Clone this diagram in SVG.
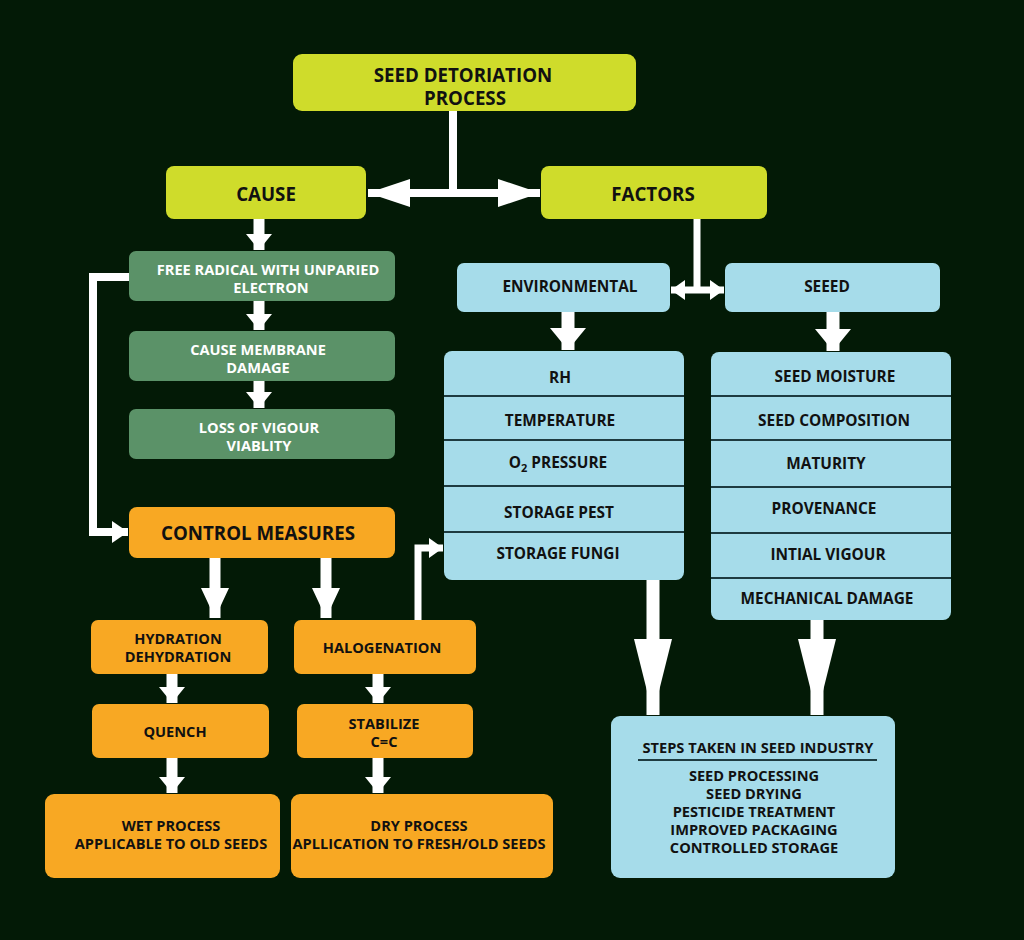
<svg xmlns="http://www.w3.org/2000/svg" width="1024" height="940" viewBox="0 0 1024 940">
<style>
text{font-family:"Open Sans","Liberation Sans",sans-serif;font-weight:bold;text-anchor:middle;dominant-baseline:central;fill:#111}
.yg{fill:#cfdc2b}
.gr{fill:#5b9268}
.or{fill:#f8a823}
.bl{fill:#a6dcea}
.w{fill:#fff}
.c{stroke:#fff;fill:none}
.div{stroke:#1e3b40;stroke-width:2}
.t17{font-size:18.7px}
.t13{font-size:14.6px}
.t14{font-size:14.6px}
.t15{font-size:15.4px}
</style>
<defs>
<marker id="ms" markerUnits="userSpaceOnUse" markerWidth="16" markerHeight="26" refX="16" refY="13" orient="auto-start-reverse"><path d="M0,0L16,13L0,26z" fill="#fff"/></marker>
<marker id="mc" markerUnits="userSpaceOnUse" markerWidth="30" markerHeight="28" refX="30" refY="14" orient="auto-start-reverse"><path d="M0,0L30,14L0,28z" fill="#fff"/></marker>
<marker id="mb" markerUnits="userSpaceOnUse" markerWidth="22" markerHeight="36" refX="22" refY="18" orient="auto-start-reverse"><path d="M0,0L22,18L0,36z" fill="#fff"/></marker>
<marker id="mt" markerUnits="userSpaceOnUse" markerWidth="42" markerHeight="28" refX="42" refY="14" orient="auto-start-reverse"><path d="M0,0L42,14L0,28z" fill="#fff"/></marker>
<marker id="mf" markerUnits="userSpaceOnUse" markerWidth="14" markerHeight="20" refX="14" refY="10" orient="auto-start-reverse"><path d="M0,0L14,10L0,20z" fill="#fff"/></marker>
<marker id="mh" markerUnits="userSpaceOnUse" markerWidth="76" markerHeight="38" refX="76" refY="19" orient="auto-start-reverse"><path d="M0,0L76,19L0,38z" fill="#fff"/></marker>
<marker id="ml" markerUnits="userSpaceOnUse" markerWidth="16" markerHeight="22" refX="16" refY="11" orient="auto-start-reverse"><path d="M0,0L16,11L0,22z" fill="#fff"/></marker>
</defs>
<rect width="1024" height="940" fill="#031a06"/>

<g id="connectors">
<line class="c" x1="453" y1="111" x2="453" y2="193" stroke-width="8"/>
<line class="c" x1="368" y1="193" x2="540" y2="193" stroke-width="8" marker-start="url(#mt)" marker-end="url(#mt)"/>
<line class="c" x1="259" y1="219" x2="259" y2="250" stroke-width="11" marker-end="url(#ms)"/>
<line class="c" x1="259" y1="301" x2="259" y2="330" stroke-width="11" marker-end="url(#ms)"/>
<line class="c" x1="259" y1="381" x2="259" y2="408" stroke-width="11" marker-end="url(#ms)"/>
<polyline class="c" points="129,277 93,277 93,532 128,532" stroke-width="8" marker-end="url(#ml)"/>
<line class="c" x1="215" y1="558" x2="215" y2="618" stroke-width="11" marker-end="url(#mc)"/>
<line class="c" x1="326" y1="558" x2="326" y2="618" stroke-width="11" marker-end="url(#mc)"/>
<line class="c" x1="172" y1="674" x2="172" y2="703" stroke-width="11" marker-end="url(#ms)"/>
<line class="c" x1="378" y1="674" x2="378" y2="703" stroke-width="11" marker-end="url(#ms)"/>
<line class="c" x1="172" y1="758" x2="172" y2="793" stroke-width="11" marker-end="url(#ms)"/>
<line class="c" x1="378" y1="758" x2="378" y2="793" stroke-width="11" marker-end="url(#ms)"/>
<polyline class="c" points="418,620 418,548 443,548" stroke-width="7" marker-end="url(#mf)"/>
<line class="c" x1="697" y1="219" x2="697" y2="290" stroke-width="7"/>
<line class="c" x1="671" y1="290" x2="724" y2="290" stroke-width="7" marker-start="url(#mf)" marker-end="url(#mf)"/>
<line class="c" x1="568" y1="312" x2="568" y2="350" stroke-width="13" marker-end="url(#mb)"/>
<line class="c" x1="833" y1="312" x2="833" y2="351" stroke-width="13" marker-end="url(#mb)"/>
<line class="c" x1="653" y1="580" x2="653" y2="715" stroke-width="13" marker-end="url(#mh)"/>
<line class="c" x1="817" y1="620" x2="817" y2="715" stroke-width="13" marker-end="url(#mh)"/>
</g>

<g id="top"><rect class="yg" x="293" y="54" width="343" height="57" rx="9"/><text class="t17" x="463" y="74">SEED DETORIATION</text><text class="t17" x="465" y="97">PROCESS</text></g>
<g id="cause"><rect class="yg" x="166" y="166" width="200" height="53" rx="8"/><text class="t17" x="266" y="193">CAUSE</text></g>
<g id="factors"><rect class="yg" x="541" y="166" width="226" height="53" rx="8"/><text class="t17" x="653" y="193">FACTORS</text></g>

<g id="free-radical"><rect class="gr" x="129" y="251" width="266" height="50" rx="7"/><text class="t13 w" x="268" y="269">FREE RADICAL WITH UNPARIED</text><text class="t13 w" x="271" y="287">ELECTRON</text></g>
<g id="membrane"><rect class="gr" x="129" y="331" width="266" height="50" rx="7"/><text class="t13 w" x="258" y="349">CAUSE MEMBRANE</text><text class="t13 w" x="258" y="367">DAMAGE</text></g>
<g id="vigour"><rect class="gr" x="129" y="409" width="266" height="50" rx="7"/><text class="t13 w" x="259" y="427">LOSS OF VIGOUR</text><text class="t13 w" x="259" y="445">VIABLITY</text></g>

<g id="control"><rect class="or" x="129" y="507" width="266" height="51" rx="8"/><text class="t17" x="258" y="532">CONTROL MEASURES</text></g>
<g id="hydration"><rect class="or" x="91" y="620" width="177" height="54" rx="7"/><text class="t14" x="178" y="638">HYDRATION</text><text class="t14" x="178" y="656">DEHYDRATION</text></g>
<g id="halogenation"><rect class="or" x="294" y="620" width="182" height="54" rx="7"/><text class="t14" x="382" y="647">HALOGENATION</text></g>
<g id="quench"><rect class="or" x="92" y="704" width="177" height="54" rx="7"/><text class="t14" x="175" y="731">QUENCH</text></g>
<g id="stabilize"><rect class="or" x="297" y="704" width="176" height="54" rx="7"/><text class="t14" x="384" y="723">STABILIZE</text><text class="t14" x="384" y="741">C=C</text></g>
<g id="wet"><rect class="or" x="45" y="794" width="235" height="84" rx="9"/><text class="t14" x="171" y="825">WET PROCESS</text><text class="t14" x="171" y="843">APPLICABLE TO OLD SEEDS</text></g>
<g id="dry"><rect class="or" x="291" y="794" width="262" height="84" rx="9"/><text class="t14" x="419" y="825">DRY PROCESS</text><text class="t14" x="419" y="843">APLLICATION TO FRESH/OLD SEEDS</text></g>

<g id="environmental"><rect class="bl" x="457" y="263" width="213" height="49" rx="7"/><text class="t15" x="570" y="286">ENVIRONMENTAL</text></g>
<g id="seeed"><rect class="bl" x="725" y="263" width="215" height="49" rx="7"/><text class="t15" x="827" y="286">SEEED</text></g>

<g id="env-list"><rect class="bl" x="444" y="351" width="240" height="229" rx="8"/>
<line class="div" x1="444" y1="396" x2="684" y2="396"/><line class="div" x1="444" y1="440" x2="684" y2="440"/><line class="div" x1="444" y1="486" x2="684" y2="486"/><line class="div" x1="444" y1="532" x2="684" y2="532"/>
<text class="t15" x="560" y="377">RH</text><text class="t15" x="560" y="420">TEMPERATURE</text>
<text class="t15" x="558" y="462">O<tspan font-size="11" dy="5">2</tspan><tspan dy="-5"> PRESSURE</tspan></text>
<text class="t15" x="559" y="512">STORAGE PEST</text><text class="t15" x="558" y="553">STORAGE FUNGI</text></g>

<g id="seed-list"><rect class="bl" x="711" y="352" width="240" height="268" rx="8"/>
<line class="div" x1="711" y1="396" x2="951" y2="396"/><line class="div" x1="711" y1="440" x2="951" y2="440"/><line class="div" x1="711" y1="487" x2="951" y2="487"/><line class="div" x1="711" y1="533" x2="951" y2="533"/><line class="div" x1="711" y1="578" x2="951" y2="578"/>
<text class="t15" x="835" y="376">SEED MOISTURE</text><text class="t15" x="834" y="420">SEED COMPOSITION</text><text class="t15" x="826" y="463">MATURITY</text><text class="t15" x="824" y="508">PROVENANCE</text><text class="t15" x="828" y="554">INTIAL VIGOUR</text><text class="t15" x="827" y="598">MECHANICAL DAMAGE</text></g>

<g id="steps"><rect class="bl" x="611" y="716" width="284" height="162" rx="9"/>
<text class="t14" x="758" y="747">STEPS TAKEN IN SEED INDUSTRY</text>
<line x1="638" y1="760" x2="877" y2="760" stroke="#1e3b40" stroke-width="2"/>
<text class="t14" x="754" y="775">SEED PROCESSING</text><text class="t14" x="754" y="793">SEED DRYING</text><text class="t14" x="754" y="811">PESTICIDE TREATMENT</text><text class="t14" x="754" y="829">IMPROVED PACKAGING</text><text class="t14" x="754" y="847">CONTROLLED STORAGE</text></g>
</svg>
